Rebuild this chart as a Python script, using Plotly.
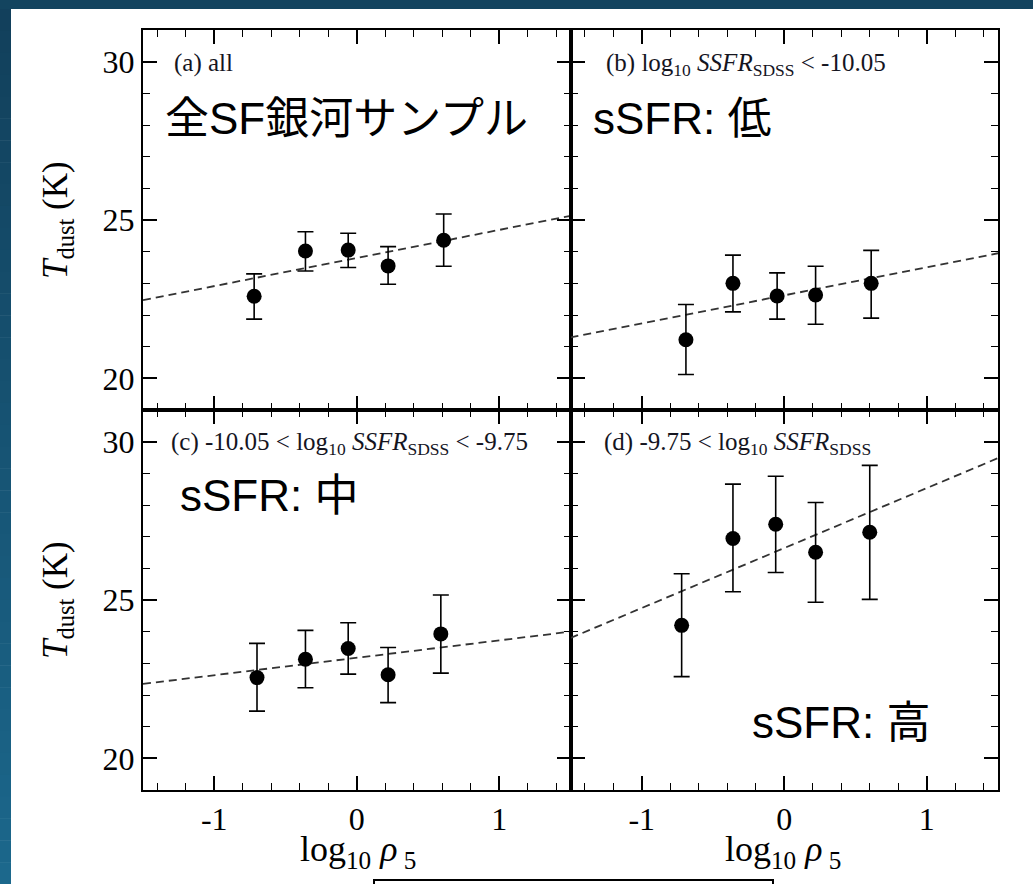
import plotly.graph_objects as go
from plotly.subplots import make_subplots

# ---------------- data ----------------
x_a = [-0.72, -0.36, -0.06, 0.22, 0.61]
y_a = [22.59, 24.02, 24.05, 23.55, 24.36]
up_a = [0.71, 0.61, 0.53, 0.61, 0.83]
dn_a = [0.72, 0.63, 0.55, 0.58, 0.82]

x_b = [-0.69, -0.36, -0.05, 0.22, 0.61]
y_b = [21.22, 23.00, 22.60, 22.63, 23.00]
up_b = [1.11, 0.89, 0.73, 0.91, 1.04]
dn_b = [1.10, 0.90, 0.73, 0.92, 1.10]

x_c = [-0.70, -0.36, -0.06, 0.22, 0.59]
y_c = [22.55, 23.13, 23.47, 22.64, 23.93]
up_c = [1.08, 0.91, 0.81, 0.86, 1.23]
dn_c = [1.06, 0.90, 0.81, 0.88, 1.24]

x_d = [-0.72, -0.36, -0.06, 0.22, 0.60]
y_d = [24.20, 26.94, 27.39, 26.51, 27.14]
up_d = [1.63, 1.72, 1.52, 1.57, 2.11]
dn_d = [1.62, 1.68, 1.52, 1.58, 2.12]

fit_x = [-1.5, 1.5]
fit_a = [22.47, 25.13]
fit_b = [21.29, 23.95]
fit_c = [22.35, 24.00]
fit_d = [23.80, 29.48]

x_tickvals = [-1, 0, 1]
x_ticktext = ["-1", "0", "1"]
y_tickvals = [20, 25, 30]
y_ticktext = ["20", "25", "30"]

panel_labels = [
    "(a) all",
    "(b) log<sub>10</sub> <i>SSFR</i><sub>SDSS</sub> &lt; -10.05",
    "(c) -10.05 &lt; log<sub>10</sub> <i>SSFR</i><sub>SDSS</sub> &lt; -9.75",
    "(d) -9.75 &lt; log<sub>10</sub> <i>SSFR</i><sub>SDSS</sub>",
]
jp_labels = ["全SF銀河サンプル", "sSFR: 低", "sSFR: 中", "sSFR: 高"]
y_title = "<i>T</i><sub>dust</sub> (K)"
x_title = "log<sub>10</sub> <i>ρ</i><sub> 5</sub>"

# ---------------- layout helpers ----------------
W, H = 1033, 884
L, R, T, B = 143, 998, 30, 790   # plot-area pixel bounds


def px(xp):
    return (xp - L) / (R - L)


def py(yp):
    return (B - yp) / (B - T)


SERIF = "Liberation Serif, Times New Roman, serif"
JP = "Liberation Sans, Arial, Noto Sans CJK JP, sans-serif"

fig = make_subplots(rows=2, cols=2, horizontal_spacing=0, vertical_spacing=0)

panels = [
    (1, 1, x_a, y_a, up_a, dn_a, fit_a),
    (1, 2, x_b, y_b, up_b, dn_b, fit_b),
    (2, 1, x_c, y_c, up_c, dn_c, fit_c),
    (2, 2, x_d, y_d, up_d, dn_d, fit_d),
]

for r, c, xs, ys, up, dn, fit in panels:
    fig.add_trace(go.Scatter(
        x=fit_x, y=fit, mode="lines",
        line=dict(color="#333333", width=1.8, dash="8px,5px"),
        showlegend=False, hoverinfo="skip"), row=r, col=c)
    fig.add_trace(go.Scatter(
        x=xs, y=ys, mode="markers",
        marker=dict(color="black", size=15),
        error_y=dict(type="data", symmetric=False, array=up, arrayminus=dn,
                     color="black", thickness=1.6, width=8),
        showlegend=False), row=r, col=c)

axis_common = dict(showline=True, linecolor="black", linewidth=2, mirror="ticks",
                   ticks="inside", tickcolor="black", tickwidth=1.5, ticklen=14,
                   showgrid=False, zeroline=False,
                   tickfont=dict(family=SERIF, size=32, color="black"))

for r in (1, 2):
    for c in (1, 2):
        fig.update_xaxes(range=[-1.5, 1.5], tickmode="array", tickvals=x_tickvals,
                         ticktext=x_ticktext, showticklabels=(r == 2),
                         minor=dict(dtick=0.2, ticks="inside", ticklen=7,
                                    tickcolor="black", tickwidth=1.3),
                         **axis_common, row=r, col=c)
        fig.update_yaxes(range=[19, 31], tickmode="array", tickvals=y_tickvals,
                         ticktext=y_ticktext, showticklabels=(c == 1),
                         minor=dict(dtick=1, ticks="inside", ticklen=7,
                                    tickcolor="black", tickwidth=1.3),
                         **axis_common, row=r, col=c)

annotations = []
# panel labels
lab_pos = [(172, 63), (604, 64), (169, 443), (602, 443)]
for txt, (xp, yp) in zip(panel_labels, lab_pos):
    annotations.append(dict(text=txt, x=px(xp), y=py(yp), xref="paper", yref="paper",
                            xanchor="left", yanchor="middle", showarrow=False,
                            font=dict(family=SERIF, size=25, color="#15151f")))
# Japanese overlays
jp_pos = [(163, 119), (591, 119), (178, 495), (750, 722)]
for txt, (xp, yp) in zip(jp_labels, jp_pos):
    annotations.append(dict(text=txt, x=px(xp), y=py(yp), xref="paper", yref="paper",
                            xanchor="left", yanchor="middle", showarrow=False,
                            font=dict(family=JP, size=44, color="black")))
# y titles
for yc in (220, 600):
    annotations.append(dict(text=y_title, x=px(57), y=py(yc), xref="paper", yref="paper",
                            xanchor="center", yanchor="middle", textangle=-90,
                            showarrow=False,
                            font=dict(family=SERIF, size=35, color="black")))
# x titles
for xc in (358, 783):
    annotations.append(dict(text=x_title, x=px(xc), y=py(852), xref="paper", yref="paper",
                            xanchor="center", yanchor="middle", showarrow=False,
                            font=dict(family=SERIF, size=36, color="black")))

shapes = []
# dark frame: top strip and left strip with vertical gradient
shapes.append(dict(type="rect", xref="paper", yref="paper", x0=px(-5), x1=px(W + 5),
                   y0=py(9), y1=py(-5), fillcolor="#13445f", line=dict(width=0),
                   layer="above"))
n = 40
c0 = (0x12, 0x40, 0x5c)
c1 = (0x1c, 0x68, 0x8c)
for i in range(n):
    t = i / (n - 1)
    col = "rgb(%d,%d,%d)" % tuple(int(a + (b - a) * t) for a, b in zip(c0, c1))
    y0p = 9 + (H - 9) * i / n
    y1p = 9 + (H - 9) * (i + 1) / n
    shapes.append(dict(type="rect", xref="paper", yref="paper", x0=px(-5), x1=px(11),
                       y0=py(y1p + 0.5), y1=py(y0p), fillcolor=col,
                       line=dict(width=0), layer="above"))
# box at bottom
shapes.append(dict(type="rect", xref="paper", yref="paper", x0=px(374), x1=px(773),
                   y0=py(895), y1=py(880), fillcolor="white",
                   line=dict(color="black", width=2), layer="above"))

fig.update_layout(
    width=W, height=H,
    margin=dict(l=L, r=W - R, t=T, b=H - B),
    paper_bgcolor="white", plot_bgcolor="white",
    annotations=annotations, shapes=shapes,
    showlegend=False,
)

fig.write_html("out.html")
